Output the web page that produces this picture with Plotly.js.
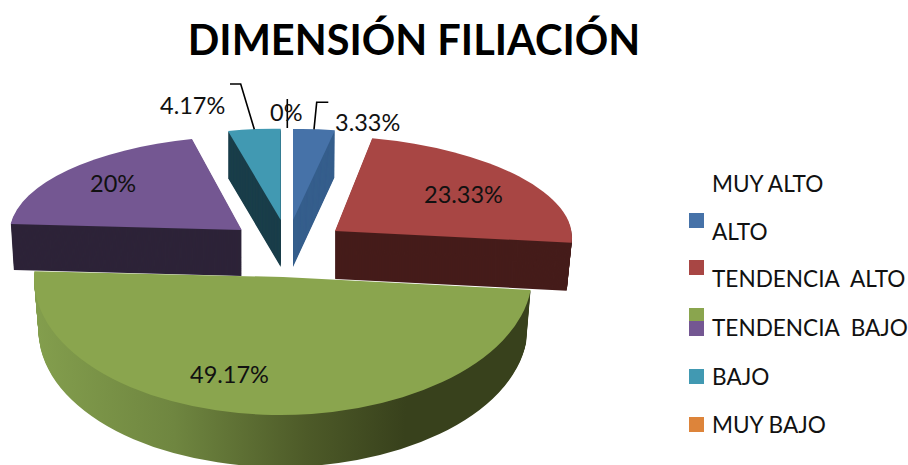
<!DOCTYPE html>
<html>
<head>
<meta charset="utf-8">
<script src="https://cdn.plot.ly/plotly-3.0.1.min.js"></script>
<style>html,body{margin:0;padding:0;background:#fff;overflow:hidden}#chart{width:908px;height:465px}</style>
</head>
<body>
<div id="chart"></div>
<script>
// ---- data ----
const categories = ['MUY ALTO', 'ALTO', 'TENDENCIA\u00a0 ALTO', 'TENDENCIA\u00a0 BAJO', 'BAJO', 'MUY BAJO'];
const values = [3.33, 23.33, 49.17, 20, 4.17, 0];
const topColors = ['#4672A8', '#A84644', '#8AA54E', '#745792', '#4199B2', '#DD843A'];
const wallColors = ['#355E8C', '#451C1A', '#5A6A30', '#2D2338', '#1A3E4A', '#A0602A'];
const chartTitle = 'DIMENSIÓN FILIACIÓN';

// ---- layout of the 3-D look: apex, [a,b,c,d] rim projection, depth, taper ----
const sliceGeo = {
  3: {apex: [241.7, 230], m: [231.9, 10.7, 1.1, -93.9], depth: 46, taper: 0.013},
  4: {apex: [280.7, 220], m: [203.6, 0, 3, -91.3], depth: 47, taper: 0},
  0: {apex: [293, 220], m: [202, 0, -4, -91], depth: 47, taper: 0.01},
  1: {apex: [335, 231], m: [236.7, -12.2, 1.8, -95.1], depth: 48, taper: 0.021},
  2: {apex: [283, 277], m: [249, 0, -1.5, -138], depth: 52, taper: 0.018}
};
const drawOrder = [3, 4, 0, 1, 2];
const labelPos = [[367, 122], [463, 194], [229, 374], [113, 183], [192, 105], [286, 112]];
const legendTextY = [183, 231, 278, 327, 376, 424];
const legendSwatchY = [220.5, 267.5, 315.5, 328.5, 376.5, 424.5];
const FONT = 'Lato, Carlito, sans-serif';

const W = 908, H = 465;
const px = x => x / W, py = y => 1 - y / H;

const base = {type: 'pie', labels: categories, values: values, sort: false, direction: 'clockwise',
  rotation: 0, textinfo: 'none', hoverinfo: 'skip', domain: {x: [0, 1], y: [0, 1]}};

const traces = [Object.assign({}, base, {showlegend: true, marker: {colors: topColors, line: {width: 0}}})];
const geoPerTrace = [null];
drawOrder.forEach(i => {
  const g = sliceGeo[i];
  const mask = c => categories.map((_, j) => j === i ? c : 'rgba(0,0,0,0)');
  for (let k = g.depth; k >= 0; k--) {
    traces.push(Object.assign({}, base, {showlegend: false,
      marker: {colors: mask(k === 0 ? topColors[i] : wallColors[i]), line: {width: 0}}}));
    const s = 1 - g.taper * k / g.depth;
    geoPerTrace.push({i: i, k: k, ax: g.apex[0], ay: g.apex[1] + k,
      a: g.m[0] * s, b: g.m[1] * s, c: g.m[2], d: g.m[3]});
  }
});

const annotations = values.map((v, i) => ({
  xref: 'paper', yref: 'paper', x: px(labelPos[i][0]), y: py(labelPos[i][1]),
  xanchor: 'center', yanchor: 'middle', showarrow: false, text: v + '%',
  font: {family: FONT, size: 23.5, color: '#111'}
}));

const leader = pts => ({type: 'path', xref: 'paper', yref: 'paper', layer: 'above',
  line: {color: '#000', width: 1.6},
  path: pts.map((p, i) => (i ? 'L' : 'M') + px(p[0]) + ',' + py(p[1])).join(' ')});

const layout = {
  width: W, height: H, margin: {l: 0, r: 0, t: 0, b: 0, autoexpand: false},
  paper_bgcolor: '#fff', hovermode: false,
  title: {text: chartTitle, x: px(414), xanchor: 'center', y: py(40), yanchor: 'middle',
    font: {family: FONT, size: 41.5, weight: 700, color: '#000'}},
  legend: {x: 0.75, y: 0.6, xanchor: 'left', yanchor: 'top', bgcolor: 'rgba(0,0,0,0)', borderwidth: 0,
    font: {family: FONT, size: 22.6, color: '#111'}},
  annotations: annotations,
  shapes: [
    leader([[230, 84], [240.7, 84], [254.3, 129.3]]),
    leader([[287.3, 99], [287.3, 128]]),
    leader([[328.3, 102.3], [316.7, 102.3], [314, 129.3]])
  ]
};

const gd = document.getElementById('chart');
Plotly.newPlot(gd, traces, layout, {displayModeBar: false, staticPlot: true}).then(() => {
  const svg = gd.querySelector('.main-svg');
  const NS = 'http://www.w3.org/2000/svg';
  const defs = document.createElementNS(NS, 'defs');
  const grad = document.createElementNS(NS, 'linearGradient');
  grad.setAttribute('id', 'greenWall');
  [[0, '#839E4D'], [0.28, '#6F8640'], [0.55, '#4D5A28'], [0.75, '#38411C'], [1, '#38411C']].forEach(s => {
    const st = document.createElementNS(NS, 'stop');
    st.setAttribute('offset', s[0]); st.setAttribute('stop-color', s[1]);
    grad.appendChild(st);
  });
  defs.appendChild(grad); svg.appendChild(defs);

  const groups = gd.querySelectorAll('.pielayer > .trace');
  groups.forEach((el, t) => {
    const g = geoPerTrace[t];
    if (!g) { el.style.display = 'none'; return; }
    const cd = gd.calcdata[t][0];
    const R = cd.r, Cx = cd.cx, Cy = cd.cy;
    const m11 = g.a / R, m12 = -g.b / R, e = g.ax - g.a * Cx / R + g.b * Cy / R;
    const m21 = g.c / R, m22 = -g.d / R, f = g.ay - g.c * Cx / R + g.d * Cy / R;
    el.setAttribute('transform', `matrix(${m11},${m21},${m12},${m22},${e},${f})`);
    if (g.i === 2 && g.k > 0) {
      el.querySelectorAll('path').forEach(p => {
        if (parseFloat(p.style.fillOpacity || '1') > 0) p.style.fill = 'url(#greenWall)';
      });
    }
  });

  // legend placement
  const leg = gd.querySelector('.legend');
  leg.setAttribute('transform', 'translate(0,0)');
  const box = leg.querySelector('.scrollbox');
  box.removeAttribute('clip-path'); box.setAttribute('transform', 'translate(0,0)');
  leg.querySelectorAll('.traces').forEach((tr, i) => {
    tr.setAttribute('transform', `translate(0,${legendTextY[i]})`);
    const txt = tr.querySelector('text');
    txt.setAttribute('x', 712);
    txt.querySelectorAll('tspan').forEach(s => s.setAttribute('x', 712));
    tr.querySelectorAll('.legendpoints path').forEach(p => {
      p.setAttribute('transform', `translate(696.5,${legendSwatchY[i] - legendTextY[i]}) scale(1.25)`);
      p.style.strokeWidth = 0;
    });
  });
});
</script>
</body>
</html>
